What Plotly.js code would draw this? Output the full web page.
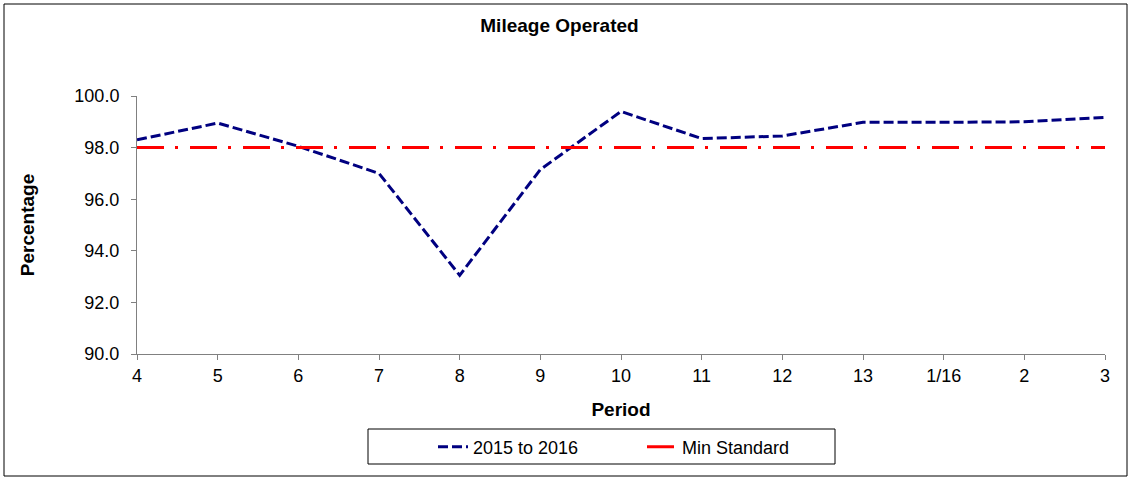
<!DOCTYPE html>
<html>
<head>
<meta charset="utf-8">
<script src="https://cdn.plot.ly/plotly-3.0.1.min.js"></script>
<style>html,body{margin:0;padding:0;background:#fff;}#chart{width:1131px;height:479px;}</style>
</head>
<body>
<div id="chart"></div>
<script>
const periods = ["4","5","6","7","8","9","10","11","12","13","1/16","2","3"];
const mileage2015to2016 = [98.3, 98.95, 98.05, 97.0, 93.05, 97.15, 99.4, 98.35, 98.45, 98.98, 98.98, 99.0, 99.17];
const minStandard = [98, 98, 98, 98, 98, 98, 98, 98, 98, 98, 98, 98, 98];
const yTicks = [90, 92, 94, 96, 98, 100];

const L = 137, T = 96, W = 968, H = 258;
function px(x){ return (x - L) / W; }
function py(y){ return (T + H - y) / H; }

const font = "Liberation Sans, Arial, sans-serif";
const traces = [
  {x: periods, y: mileage2015to2016, type: 'scatter', mode: 'lines', name: '2015 to 2016',
   line: {color: '#000080', width: 3, dash: '10px,4px'}},
  {x: periods, y: minStandard, type: 'scatter', mode: 'lines', name: 'Min Standard',
   line: {color: '#ff0000', width: 3, dash: '27px,11px,3px,12px'}}
];
const layout = {
  width: 1131, height: 479,
  margin: {l: L, r: 1131 - L - W, t: T, b: 479 - T - H, pad: 0},
  paper_bgcolor: '#fff', plot_bgcolor: '#fff',
  font: {family: font, size: 18, color: '#000'},
  title: {text: '<b>Mileage Operated</b>', x: 559.5/1131, xref: 'container', xanchor: 'center', y: 1 - 25/479, yanchor: 'middle', font: {family: font, size: 19, color: '#000'}},
  xaxis: {type: 'category', range: [0, periods.length - 1], showgrid: false, zeroline: false,
    showline: true, linecolor: '#808080', linewidth: 1, ticks: 'outside', ticklen: 5, tickcolor: '#808080',
    tickfont: {family: font, size: 18}, 
    title: {text: '<b>Period</b>', font: {family: font, size: 19}, standoff: 18}},
  yaxis: {range: [90, 100], tickvals: yTicks, ticktext: yTicks.map(v => v.toFixed(1)), showgrid: false, zeroline: false,
    showline: true, linecolor: '#808080', linewidth: 1, ticks: 'outside', ticklen: 5, tickcolor: '#808080',
    tickfont: {family: font, size: 18}, ticklabelstandoff: 8,
    title: {text: '<b>Percentage</b>', font: {family: font, size: 19}, standoff: 34}},
  showlegend: true,
  legend: {orientation: 'h', x: px(433), xanchor: 'left', y: py(447), yanchor: 'middle',
    bgcolor: 'rgba(0,0,0,0)', borderwidth: 0, font: {family: font, size: 18}, entrywidth: 164, tracegroupgap: 0},
  shapes: [
    {type: 'rect', xref: 'paper', yref: 'paper', x0: px(4), x1: px(1127), y0: py(476), y1: py(4),
     line: {color: '#000', width: 1}, fillcolor: 'rgba(0,0,0,0)', layer: 'below'},
    {type: 'rect', xref: 'paper', yref: 'paper', x0: px(368), x1: px(835), y0: py(464), y1: py(429),
     line: {color: '#000', width: 1}, fillcolor: 'rgba(0,0,0,0)', layer: 'below'}
  ]
};
Plotly.newPlot('chart', traces, layout, {displayModeBar: false, staticPlot: true});
</script>
</body>
</html>
